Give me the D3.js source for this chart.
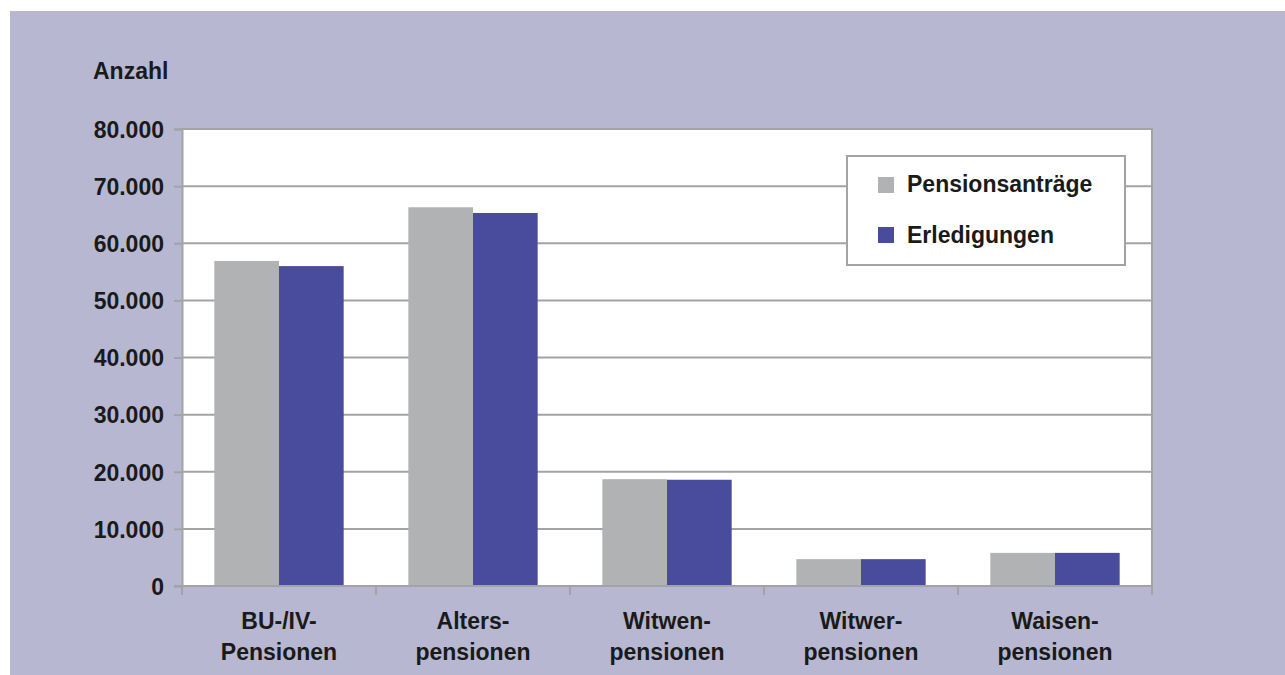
<!DOCTYPE html>
<html>
<head>
<meta charset="utf-8">
<script src="https://cdn.jsdelivr.net/npm/d3@7"></script>
<style>
  body { margin: 0; background: #fff; }
  text { font-family: "Liberation Sans", Arial, sans-serif; font-weight: bold; fill: #1a1a1a; }
</style>
</head>
<body>
<div id="chart"></div>
<script>
// chart data
const categories = [["BU-/IV-", "Pensionen"], ["Alters-", "pensionen"], ["Witwen-", "pensionen"], ["Witwer-", "pensionen"], ["Waisen-", "pensionen"]];
const antraege = [56900, 66300, 18700, 4700, 5800];
const erledigungen = [56000, 65300, 18600, 4700, 5800];
const seriesNames = ["Pensionsanträge", "Erledigungen"];
const yTicks = [0, 10000, 20000, 30000, 40000, 50000, 60000, 70000, 80000];

const W = 1285, H = 675;
const colors = ["#b1b2b4", "#494b9c"];
const gridColor = "#a3a3a5";
const fontSize = "23px";

const svg = d3.select("#chart").append("svg")
    .attr("width", W)
    .attr("height", H);

// lavender panel
svg.append("rect")
    .attr("x", 10).attr("y", 11)
    .attr("width", W - 10).attr("height", H - 11)
    .attr("fill", "#b7b7d1");

const plot = { left: 182, top: 129, right: 1152, bottom: 586 };

const x = d3.scaleBand()
    .domain(d3.range(categories.length))
    .range([plot.left, plot.right]);

const xSeries = d3.scaleBand()
    .domain([0, 1])
    .range([0, x.bandwidth()])
    .paddingOuter(0.5)
    .paddingInner(0);

const y = d3.scaleLinear()
    .domain([0, 80000])
    .range([plot.bottom, plot.top]);

// plot area
svg.append("rect")
    .attr("x", plot.left).attr("y", plot.top)
    .attr("width", plot.right - plot.left)
    .attr("height", plot.bottom - plot.top)
    .attr("fill", "#fff");

// gridlines
svg.selectAll(".grid")
    .data(yTicks.slice(1))
    .enter()
    .append("line")
    .attr("class", "grid")
    .attr("x1", plot.left).attr("x2", plot.right)
    .attr("y1", d => y(d)).attr("y2", d => y(d))
    .attr("stroke", gridColor)
    .attr("stroke-width", 2);

// right border
svg.append("line")
    .attr("x1", plot.right).attr("x2", plot.right)
    .attr("y1", plot.top - 1).attr("y2", plot.bottom)
    .attr("stroke", gridColor).attr("stroke-width", 2);

// bars
const groups = svg.selectAll(".cat")
    .data(categories.map((c, i) => i))
    .enter()
    .append("g")
    .attr("transform", i => `translate(${x(i)},0)`);

groups.selectAll("rect")
    .data(i => [antraege[i], erledigungen[i]])
    .enter()
    .append("rect")
    .attr("x", (d, j) => xSeries(j))
    .attr("width", xSeries.bandwidth())
    .attr("y", d => y(d))
    .attr("height", d => plot.bottom - y(d))
    .attr("fill", (d, j) => colors[j]);

// y axis
const yAxis = svg.append("g")
    .attr("transform", `translate(${plot.left},0)`)
    .call(d3.axisLeft(y)
        .tickValues(yTicks)
        .tickSize(8)
        .tickPadding(10)
        .tickFormat(d => d3.format(",")(d).replace(/,/g, ".")));

yAxis.select(".domain")
    .attr("stroke", gridColor).attr("stroke-width", 2);
yAxis.selectAll(".tick line")
    .attr("stroke", gridColor).attr("stroke-width", 2);
yAxis.selectAll(".tick text")
    .attr("font-size", fontSize)
    .attr("dy", "0.36em")
    .style("font-family", "'Liberation Sans', Arial, sans-serif")
    .style("font-weight", "bold")
    .attr("fill", "#1a1a1a");

// x axis line and ticks at category boundaries
svg.append("line")
    .attr("x1", plot.left - 8).attr("x2", plot.right)
    .attr("y1", plot.bottom).attr("y2", plot.bottom)
    .attr("stroke", gridColor).attr("stroke-width", 2);

const bounds = d3.range(categories.length + 1).map(i => plot.left + i * x.step());
svg.selectAll(".xtick")
    .data(bounds)
    .enter()
    .append("line")
    .attr("x1", d => d).attr("x2", d => d)
    .attr("y1", plot.bottom).attr("y2", plot.bottom + 9)
    .attr("stroke", gridColor).attr("stroke-width", 2);

// x labels
const xl = svg.selectAll(".xlabel")
    .data(categories)
    .enter()
    .append("text")
    .attr("text-anchor", "middle")
    .attr("font-size", fontSize);

xl.selectAll("tspan")
    .data((d, i) => d.map(line => ({ line, i })))
    .enter()
    .append("tspan")
    .attr("x", d => x(d.i) + x.bandwidth() / 2)
    .attr("y", (d, k) => 629 + k * 31)
    .text(d => d.line);

// axis title
svg.append("text")
    .attr("x", 93).attr("y", 79)
    .attr("font-size", fontSize)
    .text("Anzahl");

// legend
const legend = svg.append("g");
legend.append("rect")
    .attr("x", 847).attr("y", 156)
    .attr("width", 278).attr("height", 109)
    .attr("fill", "#fff")
    .attr("stroke", gridColor).attr("stroke-width", 2);

seriesNames.forEach((name, i) => {
    legend.append("rect")
        .attr("x", 878).attr("y", 177 + i * 50)
        .attr("width", 16).attr("height", 16)
        .attr("fill", colors[i]);
    legend.append("text")
        .attr("x", 907).attr("y", 192 + i * 51)
        .attr("font-size", fontSize)
        .text(name);
});
</script>
</body>
</html>
